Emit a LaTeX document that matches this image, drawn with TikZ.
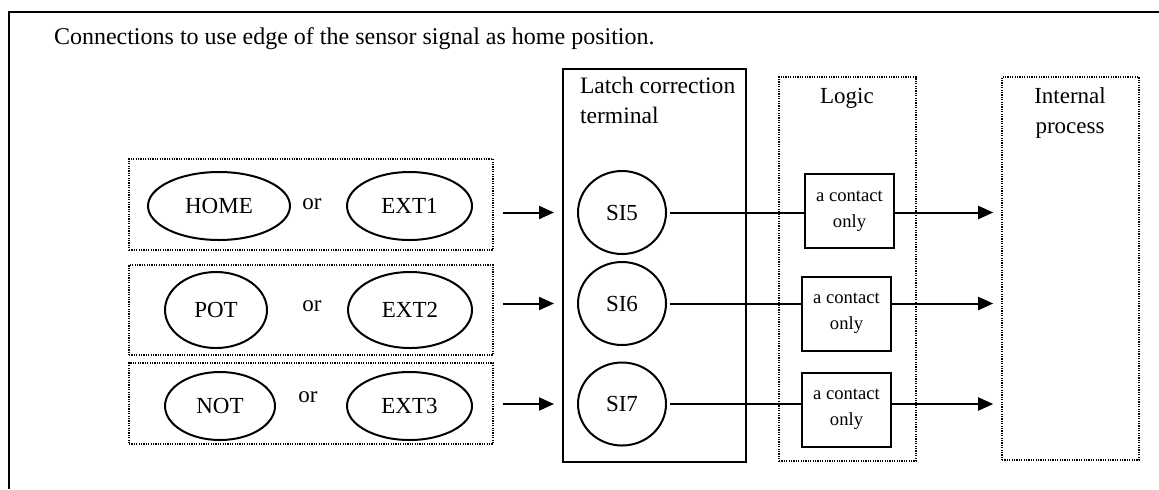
\documentclass[tikz,border=0pt]{standalone}
\usepackage{fontspec}
\setmainfont{Liberation Serif}
\usetikzlibrary{arrows.meta,shapes.geometric}

\begin{document}
\begin{tikzpicture}[x=0.5pt, y=-0.5pt,
  every node/.style={font=\fontsize{11.5}{15}\selectfont},
  line width=1pt,
  sig/.style={ellipse, draw, inner sep=0pt, minimum height=34pt},
  term/.style={ellipse, draw, inner sep=0pt, minimum width=44pt, minimum height=41.5pt},
  cont/.style={rectangle, draw, inner sep=0pt, minimum width=44.5pt, minimum height=37pt, align=center, font=\fontsize{9.3}{13}\selectfont},
  grp/.style={rectangle, draw, line width=0.8pt, dash pattern=on 0.6pt off 0.6pt, inner sep=0pt},
  arr/.style={-{Triangle[length=7.5pt, width=6.5pt]}}]
  \useasboundingbox (0,0) rectangle (1159,489);

  % frame and heading
  \draw (9,489) -- (9,12) -- (1159,12);
  \node[anchor=base west, inner sep=0pt, font=\fontsize{12}{15}\selectfont] (head) at (53,44) {Connections to use edge of the sensor signal as home position.};

  % signal groups
  \node[grp, minimum width=182pt, minimum height=45.5pt] (row1) at (311,204.5) {};
  \node[grp, minimum width=182pt, minimum height=45pt] (row2) at (311,310) {};
  \node[grp, minimum width=182pt, minimum height=40.5pt] (row3) at (311,403.5) {};

  \node[sig, minimum width=71pt] (home) at (219,206) {HOME};
  \node (or1) at (312,204) {or};
  \node[sig, minimum width=62.5pt] (ext1) at (409.5,206) {EXT1};

  \node[sig, minimum width=51pt, minimum height=38pt] (pot) at (216,310) {POT};
  \node (or2) at (312,306) {or};
  \node[sig, minimum width=62pt, minimum height=38pt] (ext2) at (410,310) {EXT2};

  \node[sig, minimum width=55pt] (nt) at (220,406) {NOT};
  \node (or3) at (308,397) {or};
  \node[sig, minimum width=62.5pt] (ext3) at (409.5,406) {EXT3};

  % latch correction terminal
  \node[rectangle, draw, minimum width=91.5pt, minimum height=196.5pt] (latch) at (654.5,265.5) {};
  \node[anchor=north west, align=left, inner sep=0pt, font=\fontsize{11.8}{15}\selectfont] (latchtxt) at (579,76) {Latch correction\\terminal};
  \node[term] (si5) at (622,212.5) {SI5};
  \node[term] (si6) at (622,303.5) {SI6};
  \node[term] (si7) at (622,404) {SI7};

  % logic
  \node[grp, minimum width=68.5pt, minimum height=192pt] (logic) at (847.5,269) {};
  \node (logictxt) at (847,98) {Logic};
  \node[cont] (ca) at (849.5,211) {a contact\\only};
  \node[cont] (cb) at (846.5,313.5) {a contact\\only};
  \node[cont] (cc) at (846.5,409.5) {a contact\\only};

  % internal process
  \node[grp, minimum width=68.5pt, minimum height=191.5pt] (proc) at (1070.5,268.5) {};
  \node[align=center] (proctxt) at (1070,113) {Internal\\process};

  % connections
  \coordinate (l5) at ([yshift=3.5pt]si5.east);
  \draw[arr] ([xshift=4.5pt]si5.west -| row1.east) -- ([xshift=-11.5pt]si5.west);
  \draw[arr] ([xshift=4.5pt]si6.west -| row2.east) -- ([xshift=-11.5pt]si6.west);
  \draw[arr] ([xshift=4.5pt]si7.west -| row3.east) -- ([xshift=-11.5pt]si7.west);

  \draw ([xshift=1.5pt]si5.east) -- (si5.east -| ca.west);
  \draw ([xshift=1.5pt]si6.east) -- (si6.east -| cb.west);
  \draw ([xshift=1.5pt]si7.east) -- (si7.east -| cc.west);

  \draw[arr] (si5.east -| ca.east) -- ([xshift=-4pt]si5.east -| proc.west);
  \draw[arr] (si6.east -| cb.east) -- ([xshift=-4pt]si6.east -| proc.west);
  \draw[arr] (si7.east -| cc.east) -- ([xshift=-4pt]si7.east -| proc.west);
\end{tikzpicture}
\end{document}
